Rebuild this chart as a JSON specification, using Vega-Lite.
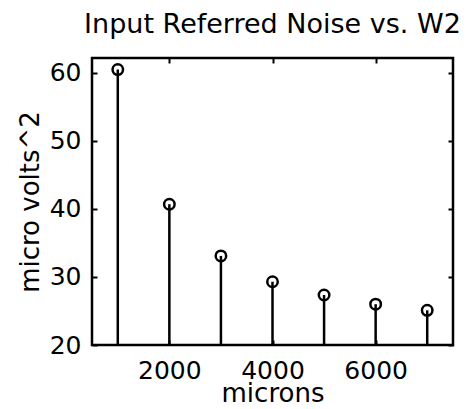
{
  "$schema": "https://vega.github.io/schema/vega-lite/v6.json",
  "autosize": {"type": "none"},
  "padding": {"left": 92, "top": 58, "right": 18, "bottom": 64},
  "width": 361,
  "height": 287,
  "background": "white",
  "title": {
    "text": "Input Referred Noise vs. W2",
    "font": "DejaVu Sans",
    "fontSize": 27,
    "fontWeight": "normal",
    "color": "black",
    "anchor": "middle",
    "offset": 18
  },
  "data": {
    "values": [
      {"width": 1000, "noise": 60.5},
      {"width": 2000, "noise": 40.7},
      {"width": 3000, "noise": 33.1},
      {"width": 4000, "noise": 29.3},
      {"width": 5000, "noise": 27.35},
      {"width": 6000, "noise": 26.0},
      {"width": 7000, "noise": 25.1}
    ]
  },
  "config": {
    "view": {"stroke": "black", "strokeWidth": 2.5},
    "axis": {
      "grid": false,
      "domain": false,
      "tickColor": "black",
      "tickWidth": 2,
      "tickSize": 5,
      "offset": -5,
      "labelFont": "DejaVu Sans",
      "labelFontSize": 25,
      "labelColor": "black",
      "titleFont": "DejaVu Sans",
      "titleFontSize": 26,
      "titleFontWeight": "normal",
      "titleColor": "black"
    }
  },
  "layer": [
    {
      "mark": {"type": "rule", "color": "black", "strokeWidth": 2.5},
      "encoding": {
        "x": {
          "field": "width",
          "type": "quantitative",
          "scale": {"domain": [500, 7500], "nice": false, "zero": false},
          "axis": {
            "orient": "bottom",
            "values": [2000, 4000, 6000],
            "format": "d",
            "title": "microns",
            "labelPadding": 13,
            "titlePadding": -3
          }
        },
        "y": {
          "field": "noise",
          "type": "quantitative",
          "scale": {"domain": [20, 62.2], "nice": false, "zero": false},
          "axis": {
            "orient": "left",
            "values": [20, 30, 40, 50, 60],
            "format": "d",
            "title": "micro volts^2",
            "labelPadding": 11,
            "titlePadding": 6
          }
        },
        "y2": {"datum": 20}
      }
    },
    {
      "mark": {
        "type": "point",
        "shape": "circle",
        "filled": false,
        "color": "black",
        "strokeWidth": 2.5,
        "size": 110,
        "opacity": 1
      },
      "encoding": {
        "x": {
          "field": "width",
          "type": "quantitative",
          "axis": {"orient": "top", "values": [2000, 4000, 6000], "labels": false, "title": null}
        },
        "y": {
          "field": "noise",
          "type": "quantitative",
          "axis": {"orient": "right", "values": [20, 30, 40, 50, 60], "labels": false, "title": null}
        }
      }
    }
  ],
  "resolve": {"axis": {"x": "independent", "y": "independent"}}
}
